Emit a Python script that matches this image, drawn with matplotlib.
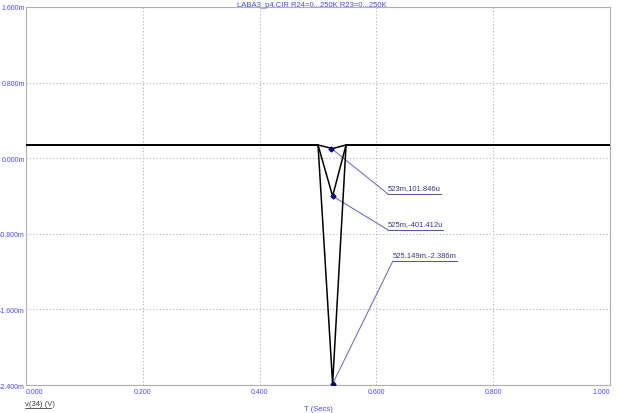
import numpy as np
import matplotlib.pyplot as plt
from matplotlib.ticker import FuncFormatter

# waveform key points (time in s, voltage in mV)
t_pts = [0.0, 0.500, 0.525, 0.548, 1.0]
baseline = 0.14
minima = [0.101846, -0.401412, -2.386]
min_t = [0.523, 0.525, 0.525149]
labels = ["523m,101.846u", "525m,-401.412u", "525.149m,-2.386m"]
label_pos = [(0.620, -0.38), (0.620, -0.76), (0.628, -1.09)]

x_ticks = [0.0, 0.2, 0.4, 0.6, 0.8, 1.0]
y_ticks = [1.6, 0.8, 0.0, -0.8, -1.6, -2.4]

blue = "#4848ff"
dark = "#333399"
plt.rcParams["font.family"] = ["Liberation Sans", "DejaVu Sans"]

fig = plt.figure(figsize=(6.24, 4.14), dpi=100)
ax = fig.add_axes([0.0417, 0.0676, 0.9359, 0.9131])

for tm, vm in zip(min_t, minima):
    ax.plot(t_pts, [baseline, baseline, vm, baseline, baseline],
            color="black", lw=1.1, zorder=3)

texts = []
for (tm, vm), txt, (lx, ly) in zip(zip(min_t, minima), labels, label_pos):
    ax.plot([tm, lx], [vm, ly], color="#7070d0", lw=0.8, zorder=2)
    texts.append(ax.text(lx, ly + 0.03, txt, fontsize=5.5, color=dark,
                         ha="left", va="bottom"))
    ax.plot(tm, vm, marker="D", ms=2.5, color="#000080", zorder=4)

ax.set_xlim(0, 1)
ax.set_ylim(-2.4, 1.6)
ax.set_xticks(x_ticks)
ax.set_yticks(y_ticks)
ax.xaxis.set_major_formatter(FuncFormatter(lambda v, p: "%.3f" % v))
ax.yaxis.set_major_formatter(FuncFormatter(lambda v, p: "%.3fm" % v))
ax.tick_params(length=0, labelsize=5, labelcolor=blue, pad=1)
ax.tick_params(axis="x", pad=2)
xl = ax.get_xticklabels()
xl[0].set_horizontalalignment("left")
xl[-1].set_horizontalalignment("right")
ax.grid(True, color="#b0b0b0", linestyle=(0, (1, 2)), lw=0.8)
for s in ax.spines.values():
    s.set_color("#b0b0b0")

# underline the marker labels
fig.canvas.draw()
inv = ax.transData.inverted()
for t, (lx, ly) in zip(texts, label_pos):
    bb = t.get_window_extent()
    x1 = inv.transform((bb.x1, bb.y0))[0]
    ax.plot([lx, x1], [ly, ly], color=dark, lw=0.6, zorder=2)

fig.text(0.5, 0.995, "LABA3_p4.CIR R24=0...250K R23=0...250K", ha="center", va="top",
         fontsize=5.5, color=blue)
fig.text(0.040, 0.014, "v(34) (V)", fontsize=5.5, color="#404040", ha="left", va="bottom")
fig.add_artist(plt.Line2D([0.040, 0.082], [0.012, 0.012], color="#404040", lw=0.6))
fig.text(0.51, 0.002, "T (Secs)", fontsize=5.5, color=blue, ha="center", va="bottom")

fig.savefig("out.png", dpi=100)
